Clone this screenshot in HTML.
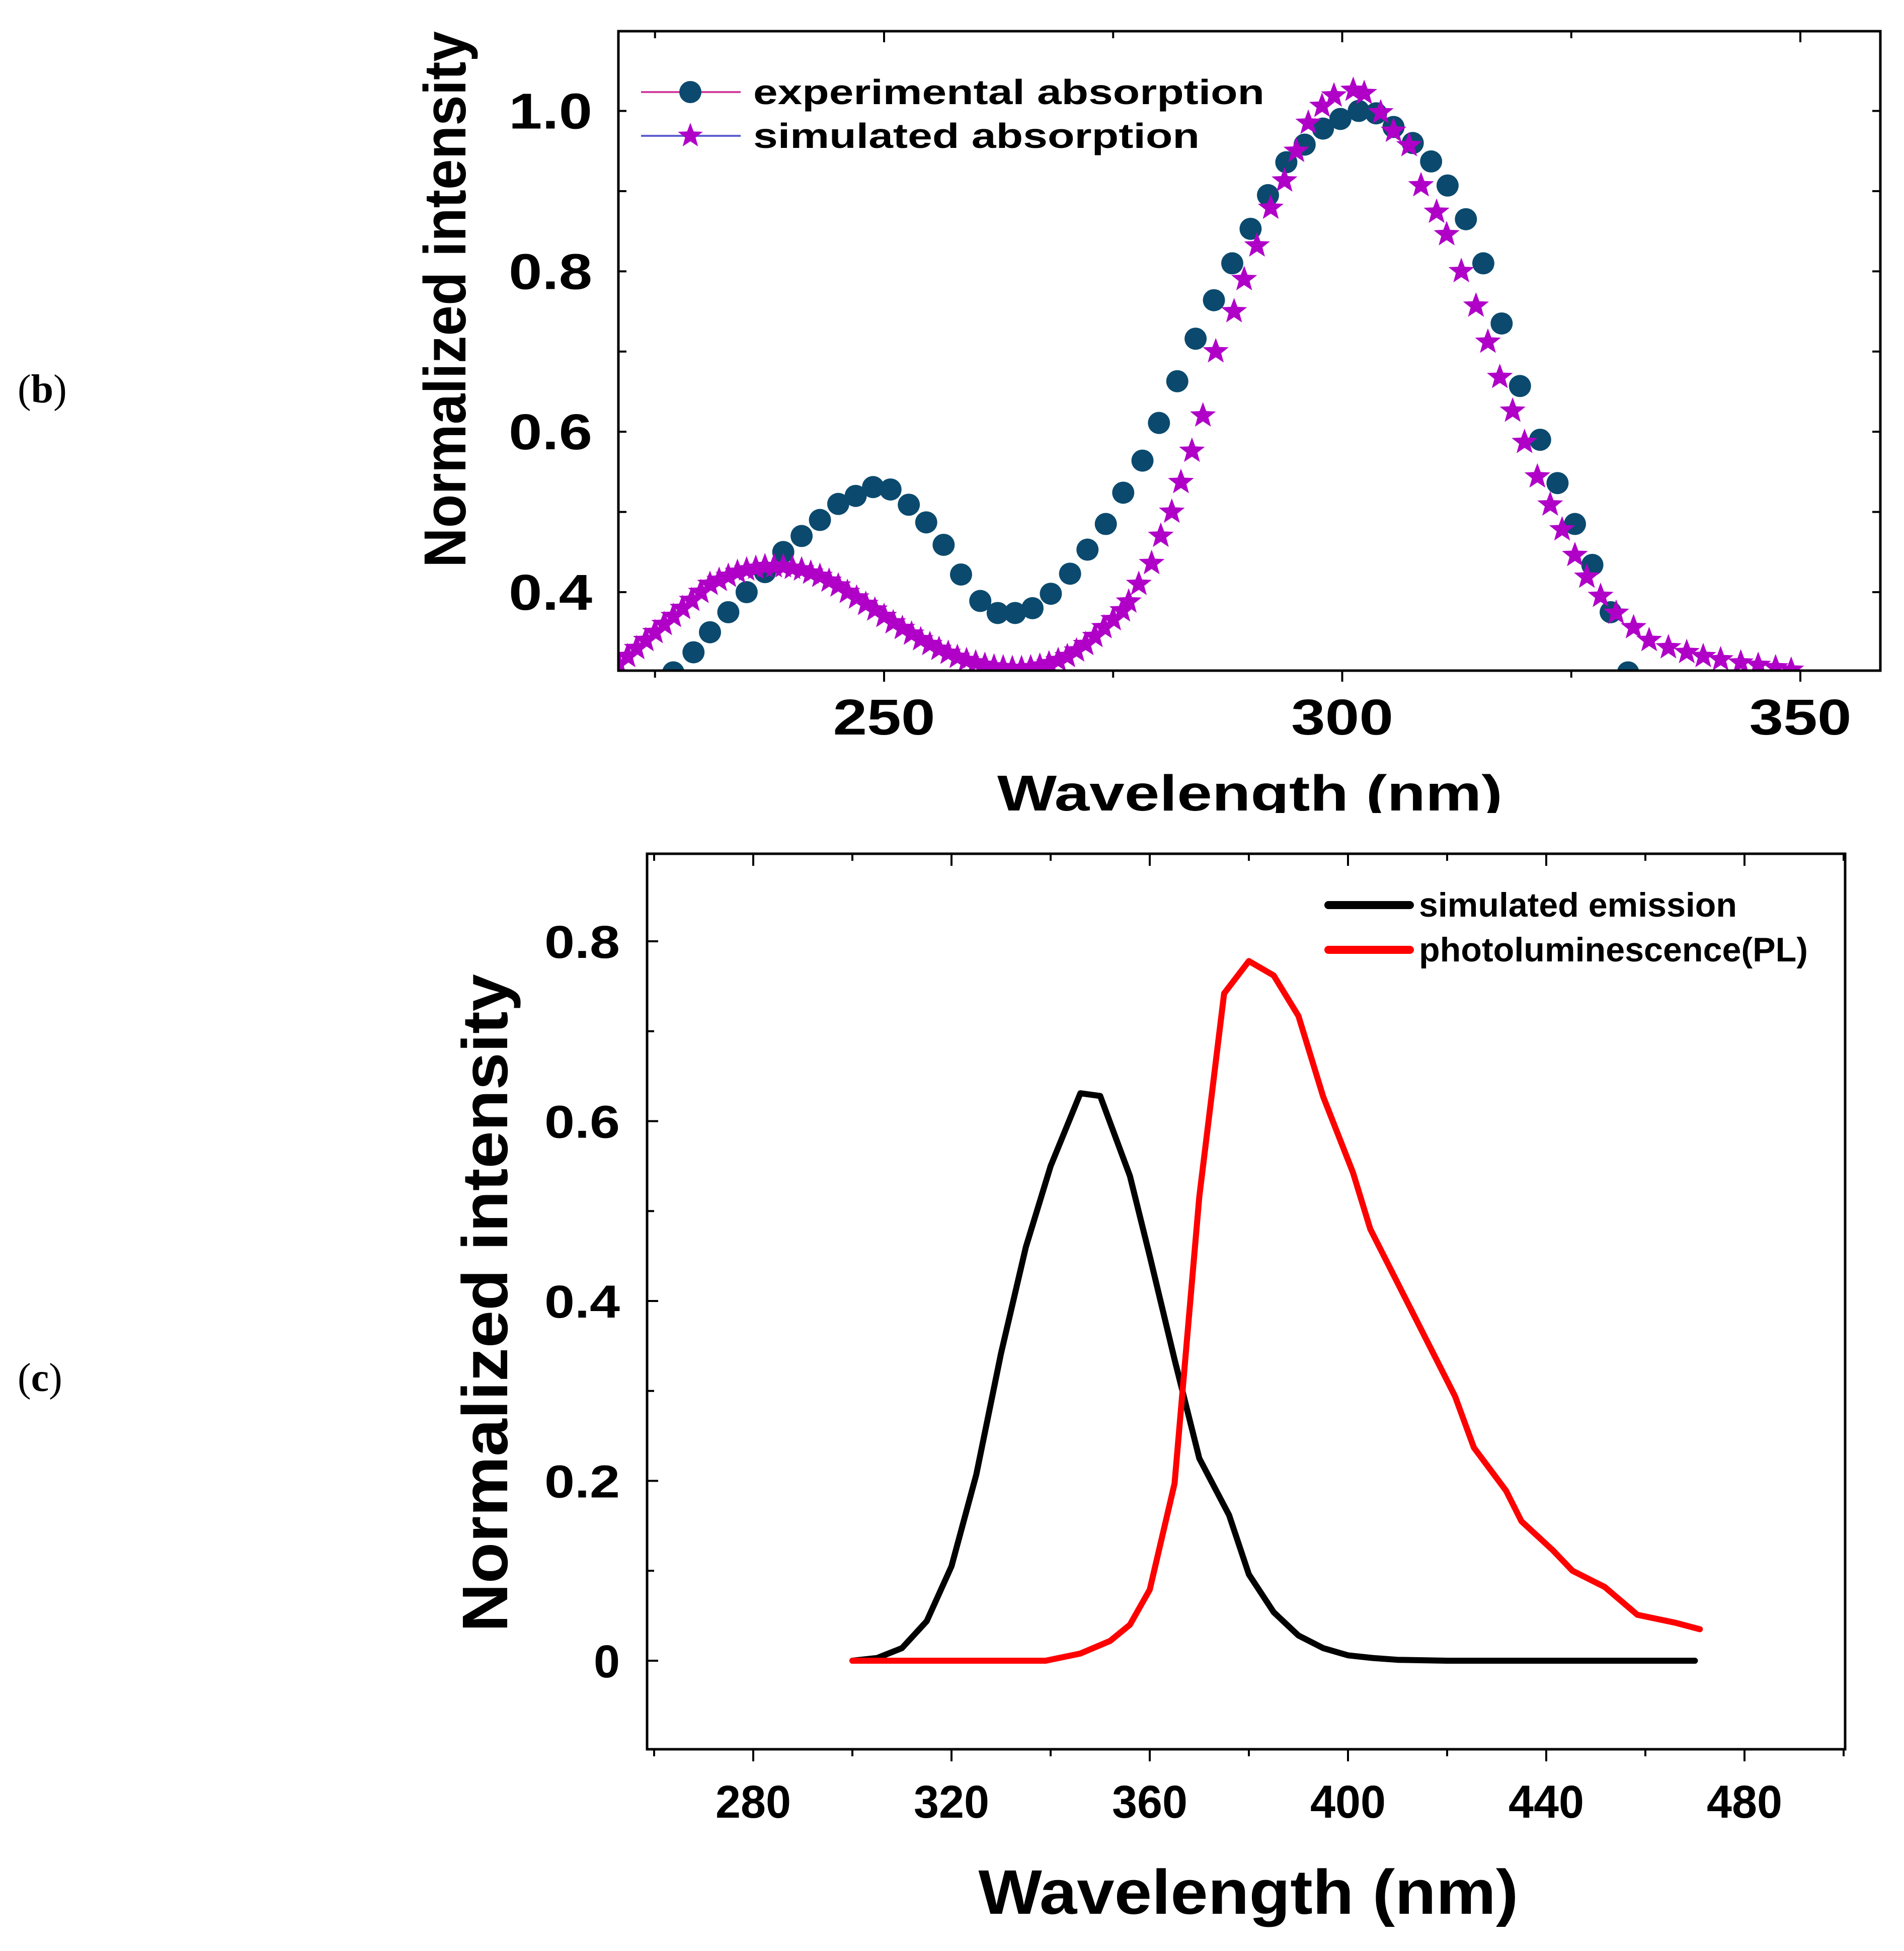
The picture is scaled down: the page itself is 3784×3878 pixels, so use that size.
<!DOCTYPE html>
<html><head><meta charset="utf-8"><style>
html,body{margin:0;padding:0;background:#fff}
svg{display:block}
text{font-family:"Liberation Sans",sans-serif}
</style></head><body>
<svg id="fig" width="3784" height="3878" viewBox="0 0 3784 3878" xmlns="http://www.w3.org/2000/svg">
<rect width="3784" height="3878" fill="#fff"/>
<text x="35" y="800" font-size="80" style="font-family:'Liberation Serif',serif">(<tspan font-weight="bold">b</tspan>)</text>
<text x="35" y="2765" font-size="80" style="font-family:'Liberation Serif',serif">(<tspan font-weight="bold">c</tspan>)</text>
<g id="top"></g>
<g id="bot"></g>
</svg>
<script>
// ---- Top chart data ----
const expX = [227,229.2,231,233,235,237,239,241,243,245,246.9,248.8,250.7,252.7,254.6,256.5,258.4,260.5,262.4,264.3,266.2,268.2,270.3,272.2,274.2,276.1,278.2,280,282,284,286,288,290,291.9,293.9,295.9,297.9,299.8,301.8,303.7,305.6,307.7,309.7,311.5,313.5,315.4,317.4,319.4,321.6,323.5,325.4,327.3,329.3,331.2];
const expY = [0.30,0.325,0.35,0.375,0.40,0.425,0.45,0.47,0.49,0.51,0.52,0.531,0.528,0.509,0.487,0.459,0.422,0.389,0.374,0.374,0.38,0.398,0.423,0.453,0.485,0.524,0.564,0.611,0.663,0.716,0.764,0.81,0.853,0.895,0.936,0.958,0.978,0.99,1.0,0.997,0.98,0.96,0.937,0.907,0.865,0.81,0.735,0.657,0.59,0.536,0.485,0.434,0.375,0.30];
const simX = [221,222,223,224,225,226,227,228,229,230,231,232,233,234,235,236,237,238,239,240,241,242,243,244,245,246,247,248,249,250,251,252,253,254,255,256,257,258,259,260,261,262,263,264,265,266,267,268,269,270,271,272,273,274,275,276,276.7,277.8,279.2,280.2,281.4,282.4,283.6,284.8,286.2,288.2,289.3,290.7,292.2,293.7,295,296.3,297.8,299.1,301.2,302.4,304.2,305.6,307.3,308.6,310.3,311.4,313,314.6,315.9,317.2,318.6,319.9,321.3,322.7,324,325.4,326.7,328.2,329.9,331.8,333.5,335.6,337.6,339.4,341.3,343.5,345.4,347.3,349];
const simY = [0.31,0.32,0.33,0.34,0.35,0.36,0.37,0.38,0.39,0.40,0.41,0.415,0.42,0.425,0.428,0.43,0.432,0.432,0.432,0.43,0.428,0.424,0.42,0.414,0.408,0.40,0.393,0.385,0.378,0.37,0.362,0.355,0.348,0.341,0.335,0.329,0.324,0.319,0.315,0.312,0.309,0.307,0.306,0.305,0.305,0.306,0.308,0.311,0.315,0.32,0.327,0.335,0.345,0.356,0.366,0.377,0.388,0.41,0.436,0.47,0.50,0.537,0.576,0.62,0.70,0.75,0.79,0.832,0.879,0.913,0.95,0.985,1.006,1.019,1.026,1.022,0.998,0.975,0.957,0.907,0.874,0.846,0.80,0.757,0.712,0.668,0.626,0.587,0.544,0.509,0.478,0.446,0.419,0.395,0.374,0.356,0.34,0.331,0.325,0.32,0.316,0.312,0.309,0.306,0.303];
const topXTicks = [250,300,350];
const topYTicks = [0.4,0.6,0.8,1.0];
// ---- Bottom chart data ----
const emX = [300,305,310,315,320,325,330,335,340,346,350,356,360,365,370,376,380,385,390,395,400,405,410,420,440,470];
const emY = [0,0.003,0.014,0.044,0.105,0.207,0.342,0.46,0.55,0.631,0.628,0.539,0.45,0.335,0.225,0.162,0.096,0.054,0.028,0.014,0.006,0.003,0.001,0,0,0];
const plX = [300,339,346,352,356,360,365,370,375,380,385,390,395,401,404.5,421.6,425.4,431.9,435,441.3,445.3,451.8,458.4,466.2,471];
const plY = [0,0,0.008,0.022,0.04,0.079,0.197,0.516,0.742,0.778,0.762,0.717,0.627,0.543,0.48,0.294,0.237,0.189,0.155,0.123,0.1,0.082,0.051,0.042,0.035];
const botXTicks = [280,320,360,400,440,480];
const botYTicks = [0,0.2,0.4,0.6,0.8];
const botYLabels = ['0','0.2','0.4','0.6','0.8'];

const NS='http://www.w3.org/2000/svg';
function mk(parent,tag,attrs,txt){const e=document.createElementNS(NS,tag);for(const k in attrs)e.setAttribute(k,attrs[k]);if(txt!==undefined)e.textContent=txt;parent.appendChild(e);return e;}

// ===== TOP =====
const T=document.getElementById('top');
const tL=1229,tR=3737,tT=62,tB=1333;
const tx=v=>1757+(v-250)*18.21;
const ty=v=>220.5+(1-v)*1594.2;
const clip=mk(T,'clipPath',{id:'tclip'});
mk(clip,'rect',{x:tL,y:tT,width:tR-tL,height:tB-tT});
const marks=mk(T,'g',{'clip-path':'url(#tclip)'});


function starPath(cx,cy,r){let d='';for(let i=0;i<10;i++){const a=-Math.PI/2+i*Math.PI/5;const rr=i%2?r*0.42:r;d+=(i?'L':'M')+(cx+rr*Math.cos(a)).toFixed(1)+','+(cy+rr*Math.sin(a)).toFixed(1);}return d+'Z';}
expX.forEach((x,i)=>{const c=mk(marks,'circle',{cx:tx(x),cy:ty(expY[i]),r:22,fill:'#0b4a6e'});

});
simX.forEach((x,i)=>{const s=mk(marks,'path',{d:starPath(tx(x),ty(simY[i]),27),fill:'#b000c8'});

});
const tf=mk(T,'rect',{x:tL,y:tT,width:tR-tL,height:tB-tT,fill:'none',stroke:'#000','stroke-width':5});


for(let v=225;v<=355;v+=25){const X=tx(v);mk(T,'line',{x1:X,y1:tB,x2:X,y2:tB+(v%50===0?22:14),stroke:'#000','stroke-width':4});mk(T,'line',{x1:X,y1:tT,x2:X,y2:tT+(v%50===0?22:14),stroke:'#000','stroke-width':4});}
for(let v=0.4;v<=1.01;v+=0.1){const Y=ty(v);mk(T,'line',{x1:tL,y1:Y,x2:tL+16,y2:Y,stroke:'#000','stroke-width':4});mk(T,'line',{x1:tR,y1:Y,x2:tR-16,y2:Y,stroke:'#000','stroke-width':4});}
topXTicks.forEach(v=>{const t=mk(T,'text',{x:tx(v),y:1460,'text-anchor':'middle','font-size':100,'font-weight':'bold',textLength:203,lengthAdjust:'spacingAndGlyphs'},String(v));

});
topYTicks.forEach(v=>{const t=mk(T,'text',{x:1177,y:ty(v)+35,'text-anchor':'end','font-size':100,'font-weight':'bold',textLength:166,lengthAdjust:'spacingAndGlyphs'},v.toFixed(1));

});
const tyt=mk(T,'text',{x:0,y:0,transform:'translate(925,595) rotate(-90)','text-anchor':'middle','font-size':118,'font-weight':'bold',textLength:1066,lengthAdjust:'spacingAndGlyphs'},'Normalized intensity');


const txt=mk(T,'text',{x:2484,y:1611,'text-anchor':'middle','font-size':100,'font-weight':'bold',textLength:1004,lengthAdjust:'spacingAndGlyphs'},'Wavelength (nm)');


mk(T,'rect',{x:1900,y:1616,width:1200,height:60,fill:'#fff'});
// legend
const lg=mk(T,'g',{});


mk(lg,'line',{x1:1274,y1:183,x2:1472,y2:183,stroke:'#d040a0','stroke-width':4});
mk(lg,'circle',{cx:1372,cy:183,r:22,fill:'#0b4a6e'});
mk(lg,'text',{x:1497,y:207,'font-size':70,'font-weight':'bold',textLength:1016,lengthAdjust:'spacingAndGlyphs'},'experimental absorption');
mk(lg,'line',{x1:1274,y1:270,x2:1472,y2:270,stroke:'#6060d0','stroke-width':4});
mk(lg,'path',{d:starPath(1372,270,26),fill:'#b000c8'});
mk(lg,'text',{x:1497,y:294,'font-size':70,'font-weight':'bold',textLength:887,lengthAdjust:'spacingAndGlyphs'},'simulated absorption');

// ===== BOTTOM =====
const B=document.getElementById('bot');
const bL=1286,bR=3667,bT=1697,bB=3477;
const bx=v=>1497+(v-280)*9.85;
const by=v=>3301-v*1787.5;
const bf=mk(B,'rect',{x:bL,y:bT,width:bR-bL,height:bB-bT,fill:'none',stroke:'#000','stroke-width':5});


for(let v=260;v<=500;v+=20){const X=bx(v);if(X<bL-2||X>bR+2)continue;mk(B,'line',{x1:X,y1:bB,x2:X,y2:bB+(v%40===0?24:14),stroke:'#000','stroke-width':4});mk(B,'line',{x1:X,y1:bT,x2:X,y2:bT+(v%40===0?24:14),stroke:'#000','stroke-width':4});}
for(let v=-0.1;v<=0.85;v+=0.1){const Y=by(v);if(Y<bT||Y>bB)continue;mk(B,'line',{x1:bL,y1:Y,x2:bL+(Math.round(v*10)%2===0?22:14),y2:Y,stroke:'#000','stroke-width':4});}
function poly(xs,ys,color,name){const p=mk(B,'polyline',{points:xs.map((x,i)=>bx(x).toFixed(1)+','+by(ys[i]).toFixed(1)).join(' '),fill:'none',stroke:color,'stroke-width':12,'stroke-linejoin':'round','stroke-linecap':'round'});

}
poly(emX,emY,'#000','simulated-emission-line');
poly(plX,plY,'#ff0000','photoluminescence-line');
botXTicks.forEach(v=>{const t=mk(B,'text',{x:bx(v),y:3613,'text-anchor':'middle','font-size':92,'font-weight':'bold',textLength:150,lengthAdjust:'spacingAndGlyphs'},String(v));

});
botYTicks.forEach((v,i)=>{const lab=botYLabels[i];const t=mk(B,'text',{x:1232,y:by(v)+33,'text-anchor':'end','font-size':92,'font-weight':'bold',textLength:lab.length>1?150:52,lengthAdjust:'spacingAndGlyphs'},lab);

});
const byt=mk(B,'text',{x:0,y:0,transform:'translate(1008,2590) rotate(-90)','text-anchor':'middle','font-size':128,'font-weight':'bold',textLength:1308,lengthAdjust:'spacingAndGlyphs'},'Normalized intensity');


const bxt=mk(B,'text',{x:2481,y:3804,'text-anchor':'middle','font-size':125,'font-weight':'bold',textLength:1073,lengthAdjust:'spacingAndGlyphs'},'Wavelength (nm)');


const bl=mk(B,'g',{});


mk(bl,'line',{x1:2640,y1:1799,x2:2802,y2:1799,stroke:'#000','stroke-width':16,'stroke-linecap':'round'});
mk(bl,'text',{x:2820,y:1822,'font-size':68,'font-weight':'bold',textLength:632,lengthAdjust:'spacingAndGlyphs'},'simulated emission');
mk(bl,'line',{x1:2640,y1:1888,x2:2802,y2:1888,stroke:'#ff0000','stroke-width':16,'stroke-linecap':'round'});
mk(bl,'text',{x:2820,y:1911,'font-size':68,'font-weight':'bold',textLength:773,lengthAdjust:'spacingAndGlyphs'},'photoluminescence(PL)');
</script>
</body></html>
